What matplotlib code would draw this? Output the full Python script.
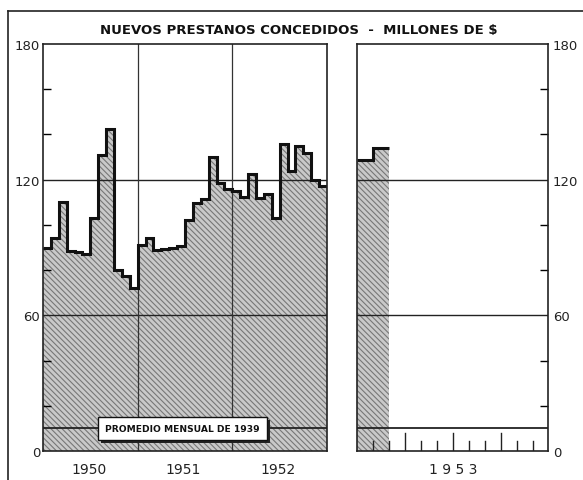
import matplotlib
matplotlib.use('Agg')
import matplotlib.pyplot as plt
import matplotlib.patheffects as pe
import numpy as np
from matplotlib.lines import Line2D

# ── Monthly new loans granted, millions of $ ──────────────────────────────────
VALS_1950 = [90, 94, 110, 88.5, 88, 87, 103, 131, 142.5, 80, 77.5, 72]
VALS_1951 = [91, 94, 89, 89.5, 90, 90.5, 102, 109.5, 111.5, 130, 118.5, 116]
VALS_1952 = [115, 112.5, 122.5, 112, 113.5, 103, 136, 124, 135, 132, 120, 117]
VALS_1953 = [128.5, 134]
AVG_1939 = 10

YEARS_LEFT = ["1950", "1951", "1952"]
YEAR_RIGHT = "1 9 5 3"
Y_LABELS = [0, 60, 120, 180]
Y_MINOR = [20, 40, 80, 100, 140, 160]
TITLE = "NUEVOS PRESTANOS CONCEDIDOS  -  MILLONES DE $"
BOX_TEXT = "PROMEDIO MENSUAL DE 1939"

plt.rcParams['hatch.linewidth'] = 0.8
FILL = "#c9c9c9"
HATCH_C = "#777777"

fig = plt.figure(figsize=(5.83, 4.81), dpi=100)
fig.patch.set_facecolor("white")

ax1 = fig.add_axes([0.0738, 0.0603, 0.487, 0.8461])
ax2 = fig.add_axes([0.6132, 0.0603, 0.3276, 0.8461])

left_vals = np.array(VALS_1950 + VALS_1951 + VALS_1952)
right_vals = np.array(VALS_1953)


def draw_panel(ax, vals, nmonths):
    edges = np.arange(len(vals) + 1)
    ax.stairs(vals, edges, baseline=0, fill=True, facecolor=FILL,
              edgecolor=HATCH_C, hatch=r'\\\\\\', linewidth=0, zorder=1)
    ax.stairs(vals, edges, baseline=None, fill=False, color="#111111",
              linewidth=2.2, zorder=4)
    for yv in (60, 120):
        ax.axhline(yv, color="#222222", lw=1.0, zorder=3)
    ax.axhline(AVG_1939, color="#222222", lw=1.3, zorder=3)
    ax.set_xlim(0, nmonths)
    ax.set_ylim(0, 180)
    ax.set_xticks([])
    for sp in ax.spines.values():
        sp.set_linewidth(1.2)
        sp.set_color("#222222")
        sp.set_zorder(5)
    ax.set_facecolor("white")


draw_panel(ax1, left_vals, 36)
draw_panel(ax2, right_vals, 12)

# year separators
for xv in (12, 24):
    ax1.axvline(xv, color="#333333", lw=0.9, zorder=3)

# month ticks along the bottom of the 1953 panel
for m in range(1, 12):
    top = 8 if m % 3 == 0 else 4.5
    ax2.plot([m, m], [0, top], color="#222222", lw=1.0, zorder=4)

# y ticks
ax1.set_yticks(Y_LABELS)
ax1.set_yticks(Y_MINOR, minor=True)
ax1.tick_params(axis='y', which='both', direction='in', length=6,
                width=1.0, labelsize=9.5, pad=2, labelcolor="#222222")
ax1.tick_params(axis='y', which='major', length=0)

ax2.yaxis.tick_right()
ax2.set_yticks(Y_LABELS)
ax2.set_yticks(Y_MINOR, minor=True)
ax2.tick_params(axis='y', which='both', direction='in', length=6,
                width=1.0, labelsize=9.5, pad=3, labelcolor="#222222")
ax2.tick_params(axis='y', which='major', length=0)

# year labels
for i, yr in enumerate(YEARS_LEFT):
    ax1.text(i * 12 + 5.8, -5, yr, ha="center", va="top", fontsize=10,
             color="#222222")
ax2.text(6, -5, YEAR_RIGHT, ha="center", va="top", fontsize=10,
         color="#222222")

# 1939 average label box with shadow
box = ax1.text(17.7, AVG_1939, BOX_TEXT, ha="center", va="center",
               fontsize=6.6, fontweight="bold", color="#111111", zorder=7,
               bbox=dict(boxstyle="square,pad=0.75", fc="white",
                         ec="#111111", lw=1.0))
box.get_bbox_patch().set_path_effects([
    pe.SimplePatchShadow(offset=(2, -2), shadow_rgbFace="#222222", alpha=1.0),
    pe.Normal()])

# title
fig.text(0.512, 0.936, TITLE, ha="center", va="center", fontsize=9.5,
         fontweight="bold", color="#111111")

# outer frame (top and left)
fig.add_artist(Line2D([0.0137, 1.0], [0.975, 0.975], color="#222222",
                      lw=1.2, transform=fig.transFigure))
fig.add_artist(Line2D([0.0137, 0.0137], [0.0, 0.975], color="#222222",
                      lw=1.2, transform=fig.transFigure))

plt.savefig("out.png", dpi=100, facecolor="white")
